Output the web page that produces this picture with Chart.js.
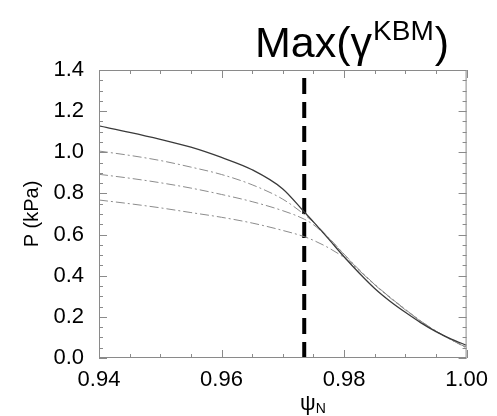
<!DOCTYPE html>
<html>
<head>
<meta charset="utf-8">
<script src="https://cdn.jsdelivr.net/npm/chart.js@4.4.1/dist/chart.umd.min.js"></script>
<style>
  html, body { margin: 0; padding: 0; background: #fff; }
  #wrap { width: 497px; height: 416px; }
</style>
</head>
<body>
<div id="wrap"><canvas id="myChart" width="497" height="416"></canvas></div>
<script>
// psi_N grid and pressure profiles (kPa)
const psi = [0.940, 0.945, 0.950, 0.955, 0.960, 0.965, 0.970, 0.9735, 0.975, 0.9775,
             0.980, 0.9825, 0.985, 0.9875, 0.990, 0.9925, 0.995, 0.9975, 1.000];
const pSolid = [1.128, 1.097, 1.063, 1.025, 0.975, 0.915, 0.822, 0.710, 0.662, 0.578,
                0.492, 0.412, 0.338, 0.276, 0.222, 0.172, 0.128, 0.092, 0.062];
const pDash1 = [1.006, 0.985, 0.960, 0.928, 0.892, 0.842, 0.772, 0.698, 0.660, 0.585,
                0.505, 0.428, 0.358, 0.295, 0.236, 0.180, 0.131, 0.089, 0.053];
const pDash2 = [0.893, 0.874, 0.852, 0.826, 0.795, 0.760, 0.716, 0.675, 0.648, 0.582,
                0.503, 0.426, 0.356, 0.293, 0.234, 0.178, 0.129, 0.088, 0.051];
const pDash3 = [0.768, 0.750, 0.730, 0.707, 0.684, 0.656, 0.620, 0.590, 0.572, 0.535,
                0.488, 0.424, 0.357, 0.295, 0.236, 0.180, 0.131, 0.089, 0.048];
const markerPsi = 0.9735;   // max(gamma KBM) location
const yRange = [0.0, 1.4];

const FONT = "'Liberation Sans', Arial, Helvetica, sans-serif";

function toPoints(ys) {
  return ys.map((y, i) => ({ x: psi[i], y: y }));
}

// inward ticks on all four sides + frame + title texts
const framePlugin = {
  id: 'frame',
  afterDatasetsDraw(chart) {
    const c = chart.ctx;
    const a = chart.chartArea;
    const xs = chart.scales.x;
    const ys = chart.scales.y;
    c.save();
    c.strokeStyle = '#8a8a8a';
    c.lineWidth = 1;
    c.strokeRect(a.left + 0.5, a.top + 0.5, a.right - a.left - 1, a.bottom - a.top - 1);
    c.beginPath();
    for (let v = 0.94; v <= 1.0001; v += 0.005) {
      const px = Math.round(xs.getPixelForValue(v)) + 0.5;
      const major = Math.abs(Math.round(v * 50) - v * 50) < 1e-6;
      const len = major ? 8 : 4;
      c.moveTo(px, a.bottom); c.lineTo(px, a.bottom - len);
      c.moveTo(px, a.top); c.lineTo(px, a.top + len);
    }
    for (let v = 0; v <= 1.4001; v += 0.05) {
      const py = Math.round(ys.getPixelForValue(v)) + 0.5;
      const major = Math.abs(Math.round(v * 5) - v * 5) < 1e-6;
      const len = major ? 8 : 4;
      c.moveTo(a.left, py); c.lineTo(a.left + len, py);
      c.moveTo(a.right, py); c.lineTo(a.right - len, py);
    }
    c.stroke();

    // title Max(gamma^KBM)
    c.fillStyle = '#000';
    c.textBaseline = 'alphabetic';
    c.textAlign = 'left';
    let x = 255;
    const base = 57;
    c.font = '43px ' + FONT;
    c.fillText('Max(γ', x, base);
    x += c.measureText('Max(γ').width + 1;
    c.font = '28px ' + FONT;
    c.fillText('KBM', x, base - 17);
    x += c.measureText('KBM').width + 1;
    c.font = '43px ' + FONT;
    c.fillText(')', x, base);

    // x title psi_N
    c.font = '22px ' + FONT;
    c.fillText('ψ', 300, 410);
    const w = c.measureText('ψ').width;
    c.font = '14px ' + FONT;
    c.fillText('N', 300 + w, 413);
    c.restore();
  }
};

const ctx = document.getElementById('myChart').getContext('2d');
const profileStyle = {
  fill: false,
  pointRadius: 0,
  cubicInterpolationMode: 'monotone',
  showLine: true,
};

const myChart = new Chart(ctx, {
  type: 'scatter',
  data: {
    datasets: [{
      ...profileStyle,
      data: toPoints(pSolid),
      borderColor: '#3a3a3a',
      borderWidth: 1.3,
    }, {
      ...profileStyle,
      data: toPoints(pDash1),
      borderColor: '#8c8c8c',
      borderWidth: 1,
      borderDash: [9, 3, 2, 3],
    }, {
      ...profileStyle,
      data: toPoints(pDash2),
      borderColor: '#8c8c8c',
      borderWidth: 1,
      borderDash: [9, 3, 2, 3],
    }, {
      ...profileStyle,
      data: toPoints(pDash3),
      borderColor: '#8c8c8c',
      borderWidth: 1,
      borderDash: [9, 3, 2, 3],
    }, {
      data: [{ x: markerPsi, y: yRange[0] }, { x: markerPsi, y: yRange[1] }],
      showLine: true,
      pointRadius: 0,
      borderColor: '#000',
      borderWidth: 4,
      borderDash: [16, 8],
      borderCapStyle: 'butt',
    }]
  },
  options: {
    responsive: false,
    animation: false,
    layout: { padding: { left: 20, right: 26, top: 70, bottom: 0 } },
    plugins: { legend: { display: false }, tooltip: { enabled: false } },
    scales: {
      x: {
        type: 'linear',
        min: 0.94,
        max: 1.0,
        grid: { display: false, drawTicks: false },
        border: { display: false },
        ticks: {
          stepSize: 0.02,
          padding: 9,
          color: '#000',
          font: { family: FONT, size: 22 },
          maxRotation: 0,
          callback: (v) => v.toFixed(2),
        },
        afterFit: (s) => { s.height = 58; },
      },
      y: {
        min: yRange[0],
        max: yRange[1],
        grid: { display: false, drawTicks: false },
        border: { display: false },
        ticks: {
          stepSize: 0.2,
          padding: 15,
          color: '#000',
          font: { family: FONT, size: 22 },
          callback: (v) => v.toFixed(1),
        },
        title: {
          display: true,
          text: 'P (kPa)',
          color: '#000',
          font: { family: FONT, size: 20 },
          padding: { top: 0, bottom: 4 },
        },
        afterFit: (s) => { s.width = 79; },
      }
    }
  },
  plugins: [framePlugin]
});
</script>
</body>
</html>
